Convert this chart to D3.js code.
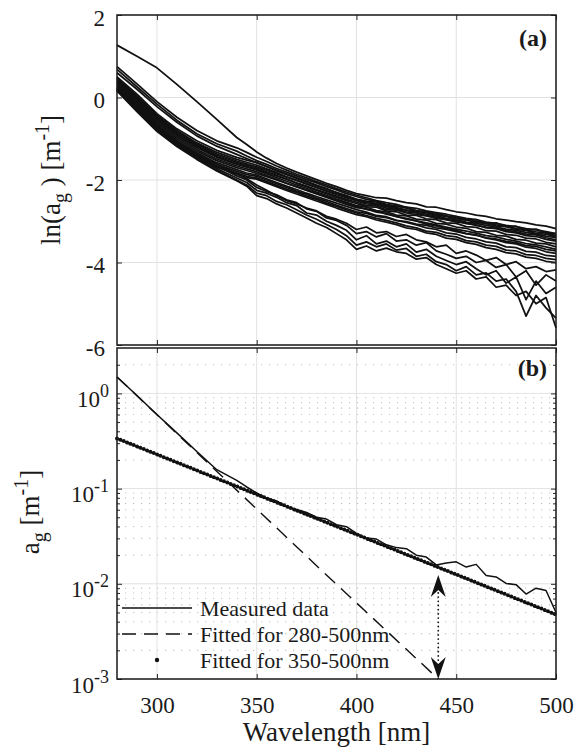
<!DOCTYPE html>
<html><head><meta charset="utf-8"><script src="https://cdn.jsdelivr.net/npm/d3@7"></script></head>
<body style="margin:0">
<script>
// wavelength grid of the spectra [nm]
var wavelength = [280, 290, 300, 310, 320, 330, 340,
  345, 350, 355, 360, 365, 370, 375, 380, 385, 390, 395, 400,
  405, 410, 415, 420, 425, 430, 435, 440, 445, 450,
  455, 460, 465, 470, 475, 480, 485, 490, 495, 500];

// (a) ln(a_g) spectra, one row per sample
var lnSpectra = [
  [1.27,1.00,0.72,0.32,-0.10,-0.53,-0.97, -1.14,-1.32,-1.47,-1.60,-1.71,-1.81,-1.90,-1.99,-2.08,-2.16,-2.25,-2.33, -2.38,-2.43,-2.44,-2.50,-2.55,-2.58,-2.65,-2.66,-2.72,-2.77, -2.80,-2.85,-2.88,-2.94,-2.97,-3.01,-3.04,-3.09,-3.12,-3.18],
  [0.75,0.33,-0.10,-0.48,-0.80,-1.05,-1.22, -1.33,-1.45,-1.55,-1.66,-1.76,-1.86,-1.95,-2.04,-2.12,-2.21,-2.29,-2.37, -2.43,-2.50,-2.55,-2.59,-2.66,-2.69,-2.75,-2.79,-2.83,-2.88, -2.93,-2.96,-3.02,-3.05,-3.10,-3.13,-3.18,-3.21,-3.25,-3.30],
  [0.68,0.26,-0.16,-0.55,-0.88,-1.12,-1.30, -1.42,-1.53,-1.62,-1.72,-1.81,-1.90,-1.99,-2.07,-2.16,-2.24,-2.33,-2.40, -2.47,-2.52,-2.59,-2.63,-2.68,-2.74,-2.77,-2.83,-2.87,-2.92, -2.95,-3.01,-3.04,-3.09,-3.12,-3.18,-3.21,-3.26,-3.28,-3.35],
  [0.60,0.20,-0.22,-0.60,-0.93,-1.18,-1.38, -1.48,-1.58,-1.68,-1.78,-1.87,-1.96,-2.05,-2.14,-2.22,-2.30,-2.38,-2.46, -2.52,-2.58,-2.63,-2.69,-2.73,-2.79,-2.83,-2.87,-2.93,-2.96, -3.02,-3.05,-3.10,-3.14,-3.19,-3.22,-3.27,-3.31,-3.36,-3.40],
  [0.50,0.08,-0.39,-0.76,-1.05,-1.28,-1.45, -1.52,-1.58,-1.67,-1.76,-1.85,-1.94,-2.03,-2.12,-2.21,-2.31,-2.39,-2.48, -2.52,-2.53,-2.62,-2.64,-2.66,-2.75,-2.78,-2.80,-2.88,-2.89, -2.97,-2.96,-3.06,-3.04,-3.13,-3.12,-3.21,-3.19,-3.28,-3.30],
  [0.47,0.04,-0.43,-0.80,-1.10,-1.33,-1.50, -1.57,-1.64,-1.73,-1.82,-1.92,-2.01,-2.10,-2.18,-2.27,-2.35,-2.43,-2.50, -2.58,-2.60,-2.68,-2.71,-2.77,-2.80,-2.86,-2.90,-2.96,-2.99, -3.06,-3.09,-3.16,-3.18,-3.25,-3.28,-3.35,-3.37,-3.44,-3.48],
  [0.44,0.01,-0.46,-0.83,-1.13,-1.37,-1.54, -1.61,-1.68,-1.76,-1.85,-1.93,-2.01,-2.09,-2.18,-2.26,-2.34,-2.42,-2.48, -2.55,-2.57,-2.65,-2.67,-2.73,-2.76,-2.79,-2.86,-2.88,-2.95, -2.97,-3.03,-3.06,-3.12,-3.13,-3.20,-3.22,-3.30,-3.31,-3.38],
  [0.41,-0.02,-0.49,-0.86,-1.16,-1.40,-1.57, -1.64,-1.71,-1.80,-1.89,-1.98,-2.08,-2.16,-2.25,-2.33,-2.42,-2.50,-2.57, -2.65,-2.66,-2.75,-2.77,-2.85,-2.86,-2.94,-2.96,-3.04,-3.05, -3.13,-3.15,-3.23,-3.24,-3.32,-3.34,-3.41,-3.43,-3.51,-3.55],
  [0.38,-0.05,-0.52,-0.89,-1.19,-1.43,-1.60, -1.67,-1.74,-1.82,-1.90,-1.98,-2.07,-2.15,-2.23,-2.31,-2.39,-2.47,-2.54, -2.62,-2.63,-2.72,-2.73,-2.80,-2.84,-2.87,-2.93,-2.96,-3.02, -3.04,-3.10,-3.14,-3.17,-3.22,-3.26,-3.31,-3.33,-3.40,-3.45],
  [0.35,-0.08,-0.55,-0.92,-1.22,-1.45,-1.62, -1.69,-1.76,-1.85,-1.94,-2.03,-2.12,-2.20,-2.29,-2.37,-2.46,-2.54,-2.62, -2.66,-2.74,-2.77,-2.85,-2.87,-2.95,-2.97,-3.05,-3.07,-3.14, -3.17,-3.25,-3.27,-3.34,-3.36,-3.44,-3.46,-3.53,-3.55,-3.62],
  [0.32,-0.11,-0.59,-0.96,-1.26,-1.49,-1.66, -1.73,-1.80,-1.89,-1.98,-2.08,-2.17,-2.25,-2.34,-2.42,-2.51,-2.59,-2.67, -2.70,-2.78,-2.81,-2.89,-2.93,-2.99,-3.04,-3.09,-3.14,-3.19, -3.24,-3.29,-3.35,-3.38,-3.44,-3.48,-3.54,-3.57,-3.62,-3.68],
  [0.29,-0.14,-0.62,-1.00,-1.30,-1.53,-1.70, -1.77,-1.84,-1.92,-2.00,-2.08,-2.16,-2.24,-2.32,-2.40,-2.48,-2.56,-2.64, -2.71,-2.75,-2.83,-2.88,-2.95,-2.99,-3.07,-3.11,-3.18,-3.22, -3.30,-3.33,-3.41,-3.45,-3.52,-3.55,-3.63,-3.66,-3.74,-3.78],
  [0.26,-0.18,-0.66,-1.04,-1.34,-1.58,-1.75, -1.83,-1.88,-1.97,-2.06,-2.15,-2.23,-2.32,-2.40,-2.48,-2.56,-2.64,-2.72, -2.78,-2.86,-2.89,-2.98,-3.03,-3.09,-3.16,-3.20,-3.28,-3.31, -3.39,-3.43,-3.50,-3.53,-3.62,-3.64,-3.73,-3.75,-3.83,-3.85],
  [0.23,-0.21,-0.69,-1.07,-1.38,-1.62,-1.79, -1.87,-1.91,-2.00,-2.09,-2.18,-2.27,-2.35,-2.44,-2.52,-2.61,-2.69,-2.77, -2.81,-2.88,-2.91,-2.98,-3.01,-3.07,-3.10,-3.16,-3.20,-3.25, -3.30,-3.34,-3.40,-3.43,-3.49,-3.52,-3.59,-3.61,-3.68,-3.72],
  [0.20,-0.24,-0.72,-1.10,-1.41,-1.66,-1.83, -1.91,-1.95,-2.04,-2.13,-2.22,-2.30,-2.39,-2.47,-2.56,-2.64,-2.72,-2.80, -2.86,-2.93,-2.98,-3.04,-3.11,-3.16,-3.24,-3.27,-3.35,-3.38, -3.47,-3.50,-3.58,-3.61,-3.70,-3.72,-3.81,-3.83,-3.90,-3.93],
  [0.18,-0.26,-0.75,-1.13,-1.44,-1.69,-1.86, -1.94,-1.98,-2.07,-2.16,-2.25,-2.34,-2.42,-2.51,-2.59,-2.68,-2.76,-2.84, -2.89,-2.97,-3.02,-3.08,-3.16,-3.20,-3.28,-3.32,-3.41,-3.44, -3.52,-3.56,-3.64,-3.68,-3.76,-3.79,-3.87,-3.90,-3.97,-4.00],
  [0.24,-0.22,-0.70,-1.06,-1.36,-1.62,-1.85, -1.97,-2.12,-2.25,-2.38,-2.50,-2.58,-2.68,-2.75,-2.88,-2.95,-3.05,-3.20, -3.14,-3.28,-3.25,-3.37,-3.32,-3.45,-3.50,-3.62,-3.58,-3.78, -3.72,-3.82,-3.95,-3.88,-4.05,-3.98,-4.15,-4.10,-4.22,-4.18],
  [0.20,-0.26,-0.74,-1.10,-1.40,-1.66,-1.90, -2.00,-2.18,-2.28,-2.36,-2.48,-2.55,-2.70,-2.76,-2.92,-2.98,-3.10,-3.30, -3.25,-3.38,-3.30,-3.48,-3.45,-3.58,-3.52,-3.72,-3.80,-3.90, -3.85,-4.00,-3.95,-4.12,-4.05,-4.35,-4.20,-4.55,-4.30,-4.45],
  [0.18,-0.30,-0.78,-1.14,-1.45,-1.72,-1.95, -2.06,-2.25,-2.32,-2.42,-2.55,-2.62,-2.80,-2.85,-3.00,-3.10,-3.22,-3.45, -3.35,-3.55,-3.48,-3.62,-3.55,-3.75,-3.68,-3.85,-3.95,-4.05, -3.98,-4.15,-4.30,-4.20,-4.50,-4.35,-4.90,-4.45,-4.75,-4.60],
  [0.17,-0.32,-0.80,-1.17,-1.48,-1.76,-2.00, -2.12,-2.32,-2.38,-2.52,-2.60,-2.72,-2.85,-2.95,-3.08,-3.20,-3.35,-3.58, -3.50,-3.62,-3.55,-3.70,-3.66,-3.85,-3.80,-3.98,-4.05,-4.20, -4.10,-4.30,-4.25,-4.45,-4.40,-4.70,-5.30,-4.80,-5.10,-5.35],
  [0.16,-0.34,-0.82,-1.19,-1.50,-1.78,-2.02, -2.15,-2.38,-2.45,-2.58,-2.68,-2.80,-2.92,-3.05,-3.15,-3.30,-3.45,-3.68, -3.60,-3.72,-3.65,-3.74,-3.78,-3.92,-3.88,-4.05,-4.15,-4.26, -4.20,-4.40,-4.35,-4.60,-4.55,-4.80,-4.70,-5.00,-4.85,-5.58]
];

// (b) measured a_g [1/m] on the same grid
var measured = [1.49,0.95,0.60,0.385,0.245,0.158,0.122,
  0.104,0.090,0.0794,0.0741,0.0646,0.0603,0.0562,0.0501,0.0479,0.0417,0.0398,0.0339,
  0.0302,0.0295,0.0257,0.0240,0.0234,0.0200,0.0191,0.0158,0.0165,0.0170,
  0.0150,0.0160,0.0122,0.0118,0.0101,0.0098,0.0078,0.0090,0.0085,0.0050];

// exponential fits (straight on the log axis)
var fit280Wl = [280, 380, 441];
var fit280 = [1.49, 0.0155, 0.001];
var fit350Wl = [280, 390, 500];
var fit350 = [0.337, 0.0401, 0.00476];

// double arrow at 441 nm
var arrowWl = 441;
var arrowEnds = [0.0124, 0.001];

var xTicks = [300, 350, 400, 450, 500];
var lnTicks = [-6, -4, -2, 0, 2];
var logTicks = [1e-3, 1e-2, 1e-1, 1];
var legendLabels = ["Measured data", "Fitted for 280-500nm", "Fitted for 350-500nm"];

var svgWidth = 587, svgHeight = 748;
var left = 117, right = 556;
var panelA = { top: 15, bottom: 345 };
var panelB = { top: 348, bottom: 679 };
var ink = "#111";
var gridColor = "#e2e2e2";

var svg = d3.select("body").append("svg")
  .attr("width", svgWidth)
  .attr("height", svgHeight);

var x = d3.scaleLinear().domain([280, 500]).range([left, right]);
var yA = d3.scaleLinear().domain([-6, 2]).range([panelA.bottom, panelA.top]);
var yB = d3.scaleLog().domain([1e-3, 3]).range([panelB.bottom, panelB.top]);

// minor log ticks 2..9 of each decade
var minorTicks = [];
logTicks.forEach(function(dec) {
  for (var k = 2; k <= 9; k++) {
    if (dec * k < 3) minorTicks.push(dec * k);
  }
});

function styleAxis(g) {
  g.attr("font-family", null).attr("font-size", null);
  g.select(".domain").remove();
  g.selectAll(".tick line").attr("stroke", "#262626").attr("stroke-width", 1);
}

// put the serif font on each text node itself
function serif(sel, size) {
  sel.attr("font-size", size).style("font-family", "'Liberation Serif'").attr("fill", "#1a1a1a");
  return sel;
}

// ---------- panel (a) ----------
var gA = svg.append("g");

gA.selectAll(".vgrid").data(xTicks).enter().append("line")
  .attr("x1", d => x(d)).attr("x2", d => x(d))
  .attr("y1", panelA.top).attr("y2", panelA.bottom)
  .attr("stroke", gridColor);
gA.selectAll(".hgrid").data(lnTicks).enter().append("line")
  .attr("x1", left).attr("x2", right)
  .attr("y1", d => yA(d)).attr("y2", d => yA(d))
  .attr("stroke", gridColor);

var lnLine = d3.line()
  .x((d, i) => x(wavelength[i]))
  .y(d => yA(d));

gA.append("g")
  .selectAll("path").data(lnSpectra).enter().append("path")
  .attr("d", lnLine)
  .attr("fill", "none")
  .attr("stroke", ink)
  .attr("stroke-width", 1.75)
  .attr("stroke-linejoin", "round");

var yAxisA = gA.append("g").attr("transform", `translate(${left},0)`)
  .call(d3.axisLeft(yA).tickValues(lnTicks).tickSize(-5).tickPadding(12).tickFormat(d => String(d)))
  .call(styleAxis);
serif(yAxisA.selectAll(".tick text"), 23).attr("dy", null).attr("y", 10);
gA.append("g").attr("transform", `translate(${right},0)`)
  .call(d3.axisRight(yA).tickValues(lnTicks).tickSize(-5).tickFormat(""))
  .call(styleAxis);
gA.append("g").attr("transform", `translate(0,${panelA.bottom})`)
  .call(d3.axisBottom(x).tickValues(xTicks).tickSize(-5).tickFormat(""))
  .call(styleAxis);
gA.append("g").attr("transform", `translate(0,${panelA.top})`)
  .call(d3.axisTop(x).tickValues(xTicks).tickSize(-5).tickFormat(""))
  .call(styleAxis);

gA.append("rect")
  .attr("x", left).attr("y", panelA.top)
  .attr("width", right - left).attr("height", panelA.bottom - panelA.top)
  .attr("fill", "none").attr("stroke", "#1a1a1a").attr("stroke-width", 1.5);

serif(gA.append("text"), 24)
  .attr("x", 547).attr("y", 46)
  .attr("text-anchor", "end")
  .attr("font-weight", "bold")
  .text("(a)");

var labA = serif(gA.append("text"), 27)
  .attr("transform", "translate(60,180) rotate(-90)")
  .attr("text-anchor", "middle");
labA.append("tspan").text("ln(a");
labA.append("tspan").attr("font-size", 20).attr("dy", 7).text("g");
labA.append("tspan").attr("dy", -7).text(" ) [m");
labA.append("tspan").attr("font-size", 20).attr("dy", -11).text("-1");
labA.append("tspan").attr("dy", 11).text("]");

// ---------- panel (b) ----------
var gB = svg.append("g");

gB.selectAll(".mgrid").data(minorTicks).enter().append("line")
  .attr("x1", left).attr("x2", right)
  .attr("y1", d => yB(d)).attr("y2", d => yB(d))
  .attr("stroke", "#c4c4c4").attr("stroke-width", 1.1)
  .attr("stroke-dasharray", "1.2,6.8");
gB.selectAll(".vgrid").data(xTicks).enter().append("line")
  .attr("x1", d => x(d)).attr("x2", d => x(d))
  .attr("y1", panelB.top).attr("y2", panelB.bottom)
  .attr("stroke", gridColor);
gB.selectAll(".hgrid").data(logTicks).enter().append("line")
  .attr("x1", left).attr("x2", right)
  .attr("y1", d => yB(d)).attr("y2", d => yB(d))
  .attr("stroke", gridColor);

var measLine = d3.line()
  .x((d, i) => x(wavelength[i]))
  .y(d => yB(d));
gB.append("path")
  .datum(measured)
  .attr("d", measLine)
  .attr("fill", "none").attr("stroke", ink).attr("stroke-width", 1.5)
  .attr("stroke-linejoin", "round");

var fitLine = function(wl) {
  return d3.line().x((d, i) => x(wl[i])).y(d => yB(d));
};
gB.append("path")
  .datum(fit280)
  .attr("d", fitLine(fit280Wl))
  .attr("fill", "none").attr("stroke", ink).attr("stroke-width", 1.4)
  .attr("stroke-dasharray", "14,8");
gB.append("path")
  .datum(fit350)
  .attr("d", fitLine(fit350Wl))
  .attr("fill", "none").attr("stroke", ink).attr("stroke-width", 4)
  .attr("stroke-linecap", "round")
  .attr("stroke-dasharray", "0,3.6");

// double arrow
var ax = x(arrowWl), ayTop = yB(arrowEnds[0]), ayBot = yB(arrowEnds[1]);
gB.append("line")
  .attr("x1", ax).attr("x2", ax)
  .attr("y1", ayTop + 18).attr("y2", ayBot - 18)
  .attr("stroke", ink).attr("stroke-width", 1.8)
  .attr("stroke-linecap", "round")
  .attr("stroke-dasharray", "0,4.2");
gB.append("path")
  .attr("d", `M${ax},${ayTop} L${ax - 7.5},${ayTop + 22} L${ax},${ayTop + 15} L${ax + 7.5},${ayTop + 22} Z`)
  .attr("fill", ink);
gB.append("path")
  .attr("d", `M${ax},${ayBot} L${ax - 7.5},${ayBot - 22} L${ax},${ayBot - 15} L${ax + 7.5},${ayBot - 22} Z`)
  .attr("fill", ink);

// axes
var xAxisB = gB.append("g").attr("transform", `translate(0,${panelB.bottom})`)
  .call(d3.axisBottom(x).tickValues(xTicks).tickSize(-5).tickFormat(d => String(d)))
  .call(styleAxis);
serif(xAxisB.selectAll(".tick text"), 23).attr("dy", null).attr("y", 34);
gB.append("g").attr("transform", `translate(0,${panelB.top})`)
  .call(d3.axisTop(x).tickValues(xTicks).tickSize(-5).tickFormat(""))
  .call(styleAxis);

var yAxisB = gB.append("g").attr("transform", `translate(${left},0)`)
  .call(d3.axisLeft(yB).tickValues(logTicks).tickSize(-5).tickPadding(8).tickFormat(""))
  .call(styleAxis);
yAxisB.selectAll(".tick text").each(function(d) {
  var t = serif(d3.select(this), 23).attr("dy", null).attr("y", 13);
  t.append("tspan").text("10");
  t.append("tspan").attr("font-size", 18).attr("dy", -10).text(String(Math.round(Math.log10(d))));
});
gB.append("g").attr("transform", `translate(${left},0)`)
  .call(d3.axisLeft(yB).tickValues(minorTicks).tickSize(-3).tickFormat(""))
  .call(styleAxis);
gB.append("g").attr("transform", `translate(${right},0)`)
  .call(d3.axisRight(yB).tickValues(logTicks).tickSize(-5).tickFormat(""))
  .call(styleAxis);
gB.append("g").attr("transform", `translate(${right},0)`)
  .call(d3.axisRight(yB).tickValues(minorTicks).tickSize(-3).tickFormat(""))
  .call(styleAxis);

gB.append("rect")
  .attr("x", left).attr("y", panelB.top)
  .attr("width", right - left).attr("height", panelB.bottom - panelB.top)
  .attr("fill", "none").attr("stroke", "#1a1a1a").attr("stroke-width", 1.5);

serif(gB.append("text"), 24)
  .attr("x", 547).attr("y", 376)
  .attr("text-anchor", "end")
  .attr("font-weight", "bold")
  .text("(b)");

// legend (no box)
var legend = gB.append("g");
var legY = [608, 634, 660];
legend.append("line").attr("x1", 122).attr("x2", 192).attr("y1", legY[0]).attr("y2", legY[0])
  .attr("stroke", ink).attr("stroke-width", 1.5);
legend.append("line").attr("x1", 122).attr("x2", 192).attr("y1", legY[1]).attr("y2", legY[1])
  .attr("stroke", ink).attr("stroke-width", 1.4).attr("stroke-dasharray", "14,8");
legend.append("circle").attr("cx", 157).attr("cy", legY[2]).attr("r", 2.2).attr("fill", ink);
serif(legend.selectAll("text").data(legendLabels).enter().append("text"), 22)
  .attr("x", 200)
  .attr("y", (d, i) => legY[i] + 8)
  .text(d => d);

var labB = serif(gB.append("text"), 27)
  .attr("transform", "translate(39,512) rotate(-90)")
  .attr("text-anchor", "middle");
labB.append("tspan").text("a");
labB.append("tspan").attr("font-size", 20).attr("dy", 7).text("g");
labB.append("tspan").attr("dy", -7).text(" [m");
labB.append("tspan").attr("font-size", 20).attr("dy", -11).text("-1");
labB.append("tspan").attr("dy", 11).text("]");

serif(svg.append("text"), 27)
  .attr("x", (left + right) / 2).attr("y", 741)
  .attr("text-anchor", "middle")
  .text("Wavelength [nm]");
</script>
</body>
</html>
